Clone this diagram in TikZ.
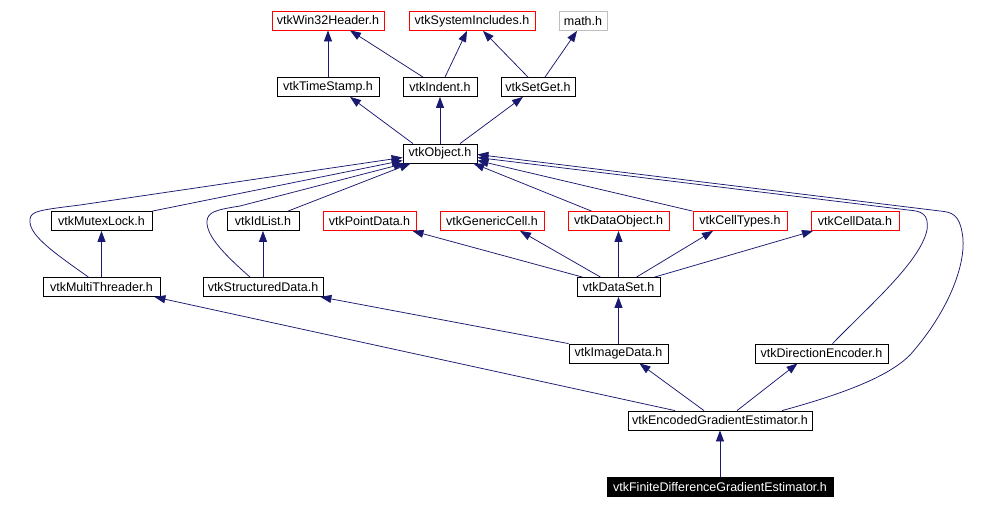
\documentclass[tikz,border=0pt]{standalone}
\usepackage{fontspec}
\setmainfont{Liberation Sans}
\usepackage{xcolor}
\usepackage{tikz}
\usetikzlibrary{arrows.meta, positioning}

\definecolor{edgeblue}{RGB}{25,25,112}
\definecolor{boxgray}{RGB}{191,191,191}

\begin{document}
\begin{tikzpicture}[
    x=1pt, y=-1pt,
    every node/.style={font=\fontsize{12.5}{14}\selectfont},
    hfile/.style={draw=black, line width=0.8pt, fill=white, inner sep=0pt, minimum height=19pt},
    redfile/.style={hfile, draw=red},
    grayfile/.style={hfile, draw=boxgray},
    focus/.style={hfile, fill=black, text=white},
    dep/.style={draw=edgeblue, line width=0.75pt, -{Triangle[length=11pt,width=8pt]}}
  ]
  \useasboundingbox (0,0) rectangle (1002,509);

  % ── System headers (top row) ──────────────────────────────────────────
  \node[redfile,  minimum width=112pt] (w32)  at (328, 20.5) {vtkWin32Header.h};
  \node[redfile,  minimum width=126pt] (sys)  at (472, 21)   {vtkSystemIncludes.h};
  \node[grayfile, minimum width=48pt]  (math) at (583, 21)   {math.h};

  % ── Core helpers ──────────────────────────────────────────────────────
  \node[hfile, minimum width=102pt] (ts)  at (328, 87)    {vtkTimeStamp.h};
  \node[hfile, minimum width=74pt]  (ind) at (440, 87)    {vtkIndent.h};
  \node[hfile, minimum width=74pt]  (sg)  at (538, 87)    {vtkSetGet.h};
  \node[hfile, minimum width=74pt]  (obj) at (440, 153.5) {vtkObject.h};

  % ── Fourth row ────────────────────────────────────────────────────────
  \node[hfile,   minimum width=101pt] (ml)  at (101.5, 221) {vtkMutexLock.h};
  \node[hfile,   minimum width=72pt]  (idl) at (263, 221)   {vtkIdList.h};
  \node[redfile, minimum width=93pt]  (pd)  at (369.5, 221) {vtkPointData.h};
  \node[redfile, minimum width=104pt] (gc)  at (492, 221)   {vtkGenericCell.h};
  \node[redfile, minimum width=101pt] (dob) at (618.5, 221) {vtkDataObject.h};
  \node[redfile, minimum width=94pt]  (ct)  at (740, 221)   {vtkCellTypes.h};
  \node[redfile, minimum width=88pt]  (cd)  at (855, 221)   {vtkCellData.h};

  % ── Lower rows ────────────────────────────────────────────────────────
  \node[hfile, minimum width=117pt] (mt)  at (101.5, 287)   {vtkMultiThreader.h};
  \node[hfile, minimum width=120pt] (sd)  at (263, 287)     {vtkStructuredData.h};
  \node[hfile, minimum width=83pt]  (ds)  at (618.5, 287)   {vtkDataSet.h};
  \node[hfile, minimum width=99pt]  (img) at (618.5, 353.5) {vtkImageData.h};
  \node[hfile, minimum width=133pt] (de)  at (821.5, 353.5) {vtkDirectionEncoder.h};
  \node[hfile, minimum width=184pt] (enc) at (720, 420.5)   {vtkEncodedGradientEstimator.h};
  \node[focus, minimum width=226pt] (fd)  at (720, 487)     {vtkFiniteDifferenceGradientEstimator.h};

  % top part
  \draw[dep] (ts) -- (w32);
  \draw[dep] ([xshift=-17pt]ind.north) -- ([xshift=22pt]w32.south);
  \draw[dep] ([xshift=5pt]ind.north) -- ([xshift=-5pt]sys.south);
  \draw[dep] ([xshift=-10pt]sg.north) -- ([xshift=11pt]sys.south);
  \draw[dep] ([xshift=7pt]sg.north) -- ([xshift=-6pt]math.south);
  \draw[dep] ([xshift=-27pt]obj.north) -- ([xshift=22pt]ts.south);
  \draw[dep] (obj) -- (ind);
  \draw[dep] ([xshift=20pt]obj.north) -- ([xshift=-15pt]sg.south);

  % into vtkObject from the left
  \draw[dep] ([xshift=-13pt]mt.north) .. controls (50,250) and (28,234) .. (30,219)
    .. controls (31,211) and (40,210) .. (80,205) -- ([yshift=-4pt]obj.west);
  \draw[dep] (ml.north east) -- ([yshift=-7pt]obj.west);
  \draw[dep] ([xshift=-13pt]sd.north) .. controls (225,255) and (206,236) .. (207,221)
    .. controls (208,212) and (215,210) .. (240,206) -- ([xshift=2pt]obj.south west);
  \draw[dep] ([xshift=25pt]idl.north) -- ([xshift=8pt]obj.south west);
  \draw[dep] (mt) -- (ml);
  \draw[dep] (sd) -- (idl);

  % into vtkObject from the right
  \draw[dep] ([xshift=-27pt]dob.north) -- ([xshift=-4pt]obj.south east);
  \draw[dep] (ct.north west) -- ([yshift=-7pt]obj.east);
  \draw[dep] ([xshift=11pt]de.north) .. controls (870,305) and (920,262) .. (927,230)
    .. controls (929,214) and (922,211) .. (908,210) -- ([yshift=-4pt]obj.east);
  \draw[dep] ([xshift=62pt]enc.north) .. controls (850,392) and (890,375) .. (910,355)
    .. controls (950,310) and (968,260) .. (962,232)
    .. controls (959,215) and (952,212) .. (940,211) -- ([yshift=-1pt]obj.east);

  % vtkDataSet
  \draw[dep] ([xshift=-36pt]ds.north) -- ([xshift=43pt]pd.south);
  \draw[dep] ([xshift=-18pt]ds.north) -- ([xshift=28pt]gc.south);
  \draw[dep] (ds) -- (dob);
  \draw[dep] ([xshift=18pt]ds.north) -- ([xshift=-27pt]ct.south);
  \draw[dep] ([xshift=36pt]ds.north) -- ([xshift=-42pt]cd.south);

  % bottom part
  \draw[dep] (img) -- (ds);
  \draw[dep] (img.north west) -- ([xshift=-3pt]sd.south east);
  \draw[dep] ([xshift=-45pt]enc.north) -- ([xshift=-6pt]mt.south east);
  \draw[dep] ([xshift=-16pt]enc.north) -- ([xshift=21pt]img.south);
  \draw[dep] ([xshift=17pt]enc.north) -- ([xshift=-24pt]de.south);
  \draw[dep] (fd) -- (enc);

\end{tikzpicture}
\end{document}
